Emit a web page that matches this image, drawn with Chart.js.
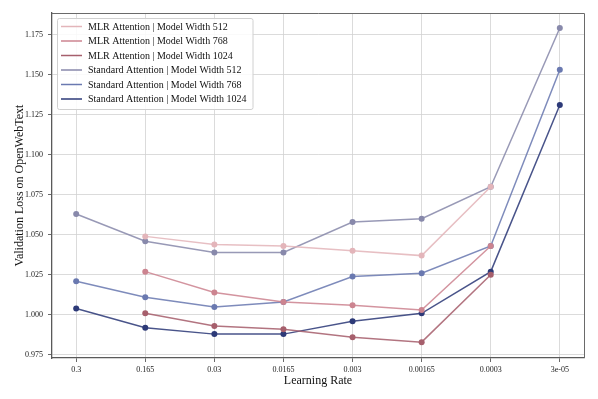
<!DOCTYPE html>
<html>
<head>
<meta charset="utf-8">
<script src="https://cdn.jsdelivr.net/npm/chart.js@4.4.1/dist/chart.umd.min.js"></script>
<style>
  html, body { margin: 0; padding: 0; background: #fff; }
  #wrap { width: 598px; height: 399px; }
</style>
</head>
<body>
<div id="wrap"><canvas id="lossChart"></canvas></div>
<script>
// learning rates shown on the x axis (evenly spaced categories)
const learningRates = ['0.3', '0.165', '0.03', '0.0165', '0.003', '0.00165', '0.0003', '3e-05'];
const yTicks = [0.975, 1.0, 1.025, 1.05, 1.075, 1.1, 1.125, 1.15, 1.175];

// validation loss (null = not run)
const mlr512  = [null, 1.049, 1.044, 1.043, 1.040, 1.037, 1.080, null];
const mlr768  = [null, 1.027, 1.014, 1.008, 1.006, 1.003, 1.043, null];
const mlr1024 = [null, 1.001, 0.993, 0.991, 0.986, 0.983, 1.025, null];
const std512  = [1.063, 1.046, 1.039, 1.039, 1.058, 1.060, 1.080, 1.179];
const std768  = [1.021, 1.011, 1.005, 1.008, 1.024, 1.026, 1.043, 1.153];
const std1024 = [1.004, 0.992, 0.988, 0.988, 0.996, 1.001, 1.027, 1.131];

const seriesNames = [
  'MLR Attention | Model Width 512',
  'MLR Attention | Model Width 768',
  'MLR Attention | Model Width 1024',
  'Standard Attention | Model Width 512',
  'Standard Attention | Model Width 768',
  'Standard Attention | Model Width 1024'
];
const seriesValues = [mlr512, mlr768, mlr1024, std512, std768, std1024];
const seriesColors = ['#e3b5ba', '#cc8490', '#a65f6c', '#8889ab', '#6a79b0', '#2d3a78'];

const serif = "'Liberation Serif', 'DejaVu Serif', serif";

function toPoints(arr) {
  return arr.map((v, i) => ({ x: i, y: v }));
}

const datasets = seriesValues.map((vals, k) => ({
  label: seriesNames[k],
  data: toPoints(vals),
  borderColor: seriesColors[k] + 'dd',
  backgroundColor: seriesColors[k],
  borderWidth: 1.5,
  pointRadius: 3,
  pointHoverRadius: 3,
  pointBorderWidth: 0,
  spanGaps: false
}));

// box around the plot + legend in the upper left, like matplotlib
const framePlugin = {
  id: 'frame',
  afterDraw(chart) {
    const { ctx, chartArea: a } = chart;
    ctx.save();
    ctx.strokeStyle = '#6a6a6a';
    ctx.lineWidth = 1;
    ctx.beginPath();
    ctx.moveTo(a.left, a.top + 0.5);
    ctx.lineTo(a.right + 0.5, a.top + 0.5);
    ctx.lineTo(a.right + 0.5, a.bottom);
    ctx.stroke();

    // legend
    ctx.font = '10px ' + serif;
    let maxW = 0;
    seriesNames.forEach(n => { maxW = Math.max(maxW, ctx.measureText(n).width); });
    const bx = a.left + 5, by = a.top + 5;
    const bw = 31 + maxW + 6, bh = 91;
    ctx.fillStyle = 'rgba(255,255,255,0.85)';
    ctx.strokeStyle = '#d0d0d0';
    ctx.lineWidth = 1;
    ctx.beginPath();
    ctx.roundRect(bx + 0.5, by + 0.5, bw, bh, 2);
    ctx.fill();
    ctx.stroke();
    ctx.textBaseline = 'middle';
    seriesNames.forEach((n, k) => {
      const yy = by + 8.5 + k * 14.5;
      ctx.strokeStyle = seriesColors[k];
      ctx.lineWidth = 1.5;
      ctx.beginPath();
      ctx.moveTo(bx + 4, yy);
      ctx.lineTo(bx + 25, yy);
      ctx.stroke();
      ctx.fillStyle = '#111';
      ctx.fillText(n, bx + 31, yy + 0.5);
    });
    ctx.restore();
  }
};

const gridStyle = {
  color: '#d2d2d2',
  lineWidth: 0.8,
  borderDash: [3, 2],
  tickLength: 4,
  tickColor: '#444',
  tickBorderDash: [],
  tickWidth: 0.8
};

new Chart(document.getElementById('lossChart'), {
  type: 'line',
  data: { datasets },
  plugins: [framePlugin],
  options: {
    responsive: true,
    maintainAspectRatio: false,
    animation: false,
    layout: { padding: { top: 13, right: 14, left: 0, bottom: 0 } },
    plugins: {
      legend: { display: false },
      tooltip: { enabled: false }
    },
    scales: {
      x: {
        type: 'linear',
        min: -0.35,
        max: 7.35,
        afterBuildTicks: axis => { axis.ticks = learningRates.map((_, i) => ({ value: i })); },
        afterFit: axis => { axis.height = 41; },
        ticks: {
          callback: v => learningRates[v],
          color: '#222',
          font: { family: serif, size: 8 },
          padding: 3,
          maxRotation: 0,
          autoSkip: false
        },
        grid: gridStyle,
        border: { color: '#5a5a5a', width: 1.3 },
        title: {
          display: true,
          text: 'Learning Rate',
          color: '#111',
          font: { family: serif, size: 12 },
          padding: { top: 0, bottom: 11 }
        }
      },
      y: {
        min: 0.9731,
        max: 1.1884,
        afterBuildTicks: axis => { axis.ticks = yTicks.map(v => ({ value: v })); },
        afterFit: axis => { axis.width = 52; },
        ticks: {
          callback: v => v.toFixed(3),
          color: '#222',
          font: { family: serif, size: 8 },
          padding: 5
        },
        grid: gridStyle,
        border: { color: '#5a5a5a', width: 1.3 },
        title: {
          display: true,
          text: 'Validation Loss on OpenWebText',
          color: '#111',
          font: { family: serif, size: 12 },
          padding: { top: 13, bottom: 0 }
        }
      }
    }
  }
});
</script>
</body>
</html>
